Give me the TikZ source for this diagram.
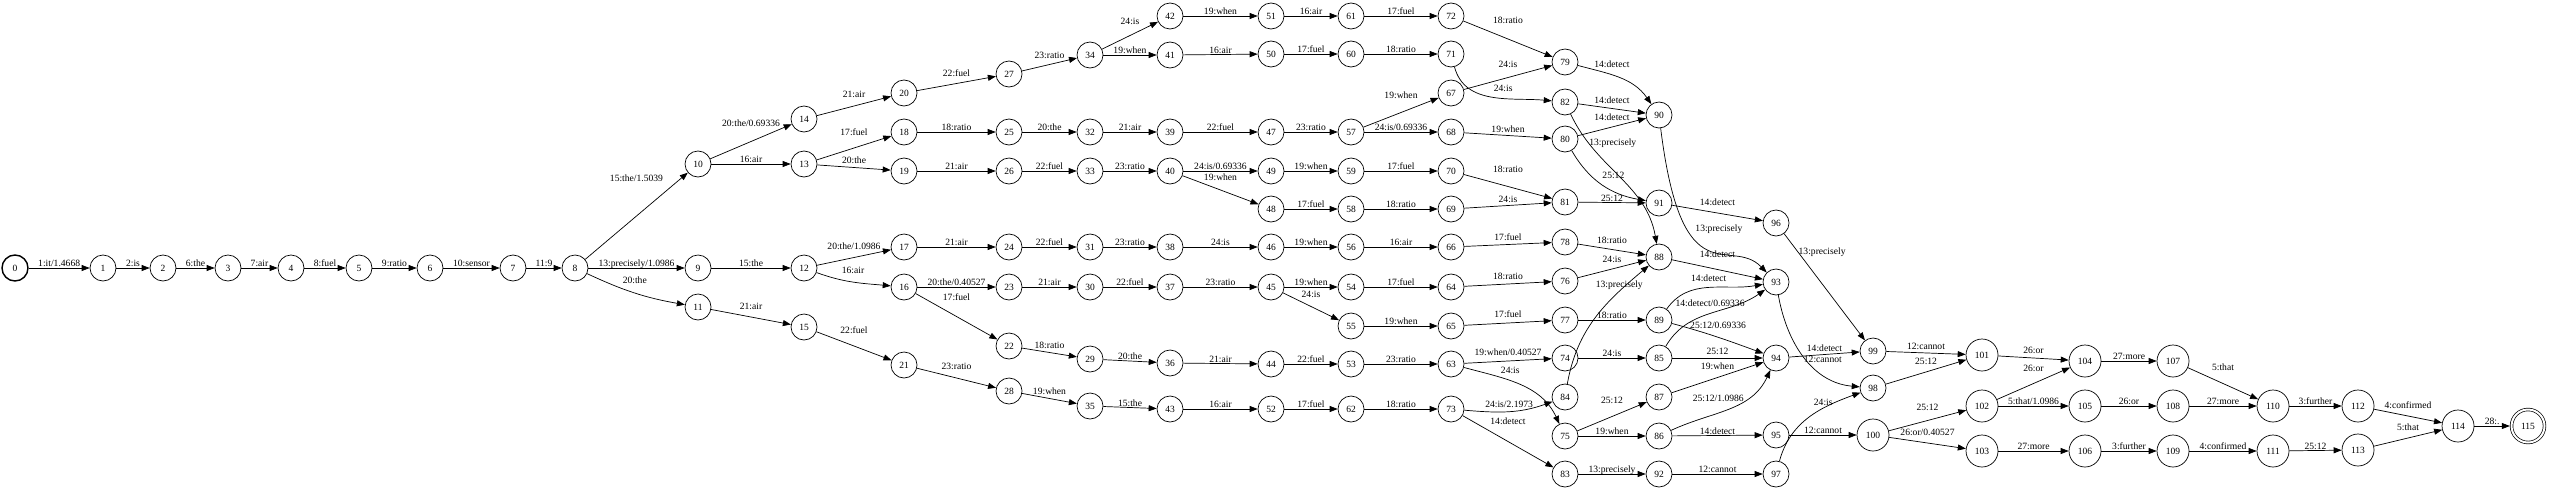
\documentclass[tikz,border=0pt]{standalone}
\usepackage{fontspec}
\setmainfont{Liberation Serif}
\usetikzlibrary{arrows.meta}

\begin{document}
\begin{tikzpicture}[x=1pt, y=-1pt,
  st/.style={circle, draw, line width=0.7pt, minimum size=26pt, inner sep=0pt, font=\fontsize{9.5}{11}\selectfont},
  stw/.style={st, minimum size=32pt},
  tr/.style={-{Triangle[length=8pt,width=6pt]}, line width=0.7pt},
  lbl/.style={above=0.5pt, inner sep=0.5pt, text depth=0pt, font=\fontsize{9.6}{11}\selectfont}]
\useasboundingbox (0,0) rectangle (2550,490);

% Draw the states
\node[st, line width=1.4pt] (n0) at (15,268) {0};
\node[st] (n1) at (103,268) {1};
\node[st] (n2) at (163,268) {2};
\node[st] (n3) at (228,268) {3};
\node[st] (n4) at (291,268) {4};
\node[st] (n5) at (359,268) {5};
\node[st] (n6) at (430,268) {6};
\node[st] (n7) at (513,268) {7};
\node[st] (n8) at (575,268) {8};
\node[st] (n9) at (698,268) {9};
\node[st] (n10) at (698,164) {10};
\node[st] (n11) at (698,307) {11};
\node[st] (n12) at (804,268) {12};
\node[st] (n13) at (804,164) {13};
\node[st] (n14) at (804,119) {14};
\node[st] (n15) at (804,327) {15};
\node[st] (n16) at (904,287) {16};
\node[st] (n17) at (904,247) {17};
\node[st] (n18) at (904,132) {18};
\node[st] (n19) at (904,171) {19};
\node[st] (n20) at (904,93) {20};
\node[st] (n21) at (904,365) {21};
\node[st] (n22) at (1009,346) {22};
\node[st] (n23) at (1009,287) {23};
\node[st] (n24) at (1009,247) {24};
\node[st] (n25) at (1009,132) {25};
\node[st] (n26) at (1009,171) {26};
\node[st] (n27) at (1009,74) {27};
\node[st] (n28) at (1009,391) {28};
\node[st] (n29) at (1090,359) {29};
\node[st] (n30) at (1090,287) {30};
\node[st] (n31) at (1090,247) {31};
\node[st] (n32) at (1090,132) {32};
\node[st] (n33) at (1090,171) {33};
\node[st] (n34) at (1090,55) {34};
\node[st] (n35) at (1090,406) {35};
\node[st] (n36) at (1170,363) {36};
\node[st] (n37) at (1170,287) {37};
\node[st] (n38) at (1170,247) {38};
\node[st] (n39) at (1170,132) {39};
\node[st] (n40) at (1170,171) {40};
\node[st] (n41) at (1170,55) {41};
\node[st] (n42) at (1170,16) {42};
\node[st] (n43) at (1170,409) {43};
\node[st] (n44) at (1271,364) {44};
\node[st] (n45) at (1271,287) {45};
\node[st] (n46) at (1271,247) {46};
\node[st] (n47) at (1271,132) {47};
\node[st] (n48) at (1271,209) {48};
\node[st] (n49) at (1271,171) {49};
\node[st] (n50) at (1271,54) {50};
\node[st] (n51) at (1271,16) {51};
\node[st] (n52) at (1271,409) {52};
\node[st] (n53) at (1351,364) {53};
\node[st] (n54) at (1351,287) {54};
\node[st] (n55) at (1351,326) {55};
\node[st] (n56) at (1351,247) {56};
\node[st] (n57) at (1351,132) {57};
\node[st] (n58) at (1351,209) {58};
\node[st] (n59) at (1351,171) {59};
\node[st] (n60) at (1351,54) {60};
\node[st] (n61) at (1351,16) {61};
\node[st] (n62) at (1351,409) {62};
\node[st] (n63) at (1451,364) {63};
\node[st] (n64) at (1451,287) {64};
\node[st] (n65) at (1451,326) {65};
\node[st] (n66) at (1451,247) {66};
\node[st] (n67) at (1451,93) {67};
\node[st] (n68) at (1451,132) {68};
\node[st] (n69) at (1451,209) {69};
\node[st] (n70) at (1451,171) {70};
\node[st] (n71) at (1451,54) {71};
\node[st] (n72) at (1451,16) {72};
\node[st] (n73) at (1451,409) {73};
\node[st] (n74) at (1565,358) {74};
\node[st] (n75) at (1565,436) {75};
\node[st] (n76) at (1565,281) {76};
\node[st] (n77) at (1565,320) {77};
\node[st] (n78) at (1565,242) {78};
\node[st] (n79) at (1565,62) {79};
\node[st] (n80) at (1565,139) {80};
\node[st] (n81) at (1565,202) {81};
\node[st] (n82) at (1565,102) {82};
\node[st] (n83) at (1565,474) {83};
\node[st] (n84) at (1565,397) {84};
\node[st] (n85) at (1659,358) {85};
\node[st] (n86) at (1659,436) {86};
\node[st] (n87) at (1659,397) {87};
\node[st] (n88) at (1659,257) {88};
\node[st] (n89) at (1659,320) {89};
\node[st] (n90) at (1659,115) {90};
\node[st] (n91) at (1659,203) {91};
\node[st] (n92) at (1659,474) {92};
\node[st] (n93) at (1776,282) {93};
\node[st] (n94) at (1776,358) {94};
\node[st] (n95) at (1776,435) {95};
\node[st] (n96) at (1776,223) {96};
\node[st] (n97) at (1776,474) {97};
\node[st] (n98) at (1873,388) {98};
\node[st] (n99) at (1873,351) {99};
\node[stw] (n100) at (1873,435) {100};
\node[stw] (n101) at (1982,355) {101};
\node[stw] (n102) at (1982,406) {102};
\node[stw] (n103) at (1982,451) {103};
\node[stw] (n104) at (2085,361) {104};
\node[stw] (n105) at (2085,406) {105};
\node[stw] (n106) at (2085,451) {106};
\node[stw] (n107) at (2173,361) {107};
\node[stw] (n108) at (2173,406) {108};
\node[stw] (n109) at (2173,451) {109};
\node[stw] (n110) at (2273,406) {110};
\node[stw] (n111) at (2273,451) {111};
\node[stw] (n112) at (2358,406) {112};
\node[stw] (n113) at (2358,450) {113};
\node[stw] (n114) at (2458,426) {114};
\node[stw, minimum size=33pt, double, double distance=2pt, outer sep=1.7pt] (n115) at (2528,426) {115};

% Draw the arcs
\draw[tr] (n0) -- node[lbl] {1:it/1.4668} (n1);
\draw[tr] (n1) -- node[lbl] {2:is} (n2);
\draw[tr] (n2) -- node[lbl] {6:the} (n3);
\draw[tr] (n3) -- node[lbl] {7:air} (n4);
\draw[tr] (n4) -- node[lbl] {8:fuel} (n5);
\draw[tr] (n5) -- node[lbl] {9:ratio} (n6);
\draw[tr] (n6) -- node[lbl] {10:sensor} (n7);
\draw[tr] (n7) -- node[lbl] {11:9} (n8);
\draw[tr] (n8) -- node[lbl, above=33pt] {15:the/1.5039} (n10);
\draw[tr] (n8) -- node[lbl] {13:precisely/1.0986} (n9);
\draw[tr] (n8) to[out=-25,in=170] node[lbl, above=8pt] {20:the} (n11);
\draw[tr] (n9) -- node[lbl] {15:the} (n12);
\draw[tr] (n10) -- node[lbl, above=14pt] {20:the/0.69336} (n14);
\draw[tr] (n10) -- node[lbl] {16:air} (n13);
\draw[tr] (n11) -- node[lbl, above=6pt] {21:air} (n15);
\draw[tr] (n14) -- node[lbl, above=7pt] {21:air} (n20);
\draw[tr] (n13) -- node[lbl, above=11pt] {17:fuel} (n18);
\draw[tr] (n13) -- node[lbl, above=3pt] {20:the} (n19);
\draw[tr] (n12) -- node[lbl, above=7pt] {20:the/1.0986} (n17);
\draw[tr] (n12) to[out=-20,in=175] node[lbl, above=7pt] {16:air} (n16);
\draw[tr] (n15) -- node[lbl, above=11pt] {22:fuel} (n21);
\draw[tr] (n20) -- node[lbl, above=6pt] {22:fuel} (n27);
\draw[tr] (n27) -- node[lbl, above=5pt] {23:ratio} (n34);
\draw[tr] (n34) -- node[lbl, above=10pt] {24:is} (n42);
\draw[tr] (n34) -- node[lbl] {19:when} (n41);
\draw[tr] (n42) -- node[lbl] {19:when} (n51);
\draw[tr] (n41) -- node[lbl] {16:air} (n50);
\draw[tr] (n18) -- node[lbl] {18:ratio} (n25);
\draw[tr] (n25) -- node[lbl] {20:the} (n32);
\draw[tr] (n32) -- node[lbl] {21:air} (n39);
\draw[tr] (n39) -- node[lbl] {22:fuel} (n47);
\draw[tr] (n19) -- node[lbl] {21:air} (n26);
\draw[tr] (n26) -- node[lbl] {22:fuel} (n33);
\draw[tr] (n33) -- node[lbl] {23:ratio} (n40);
\draw[tr] (n40) -- node[lbl] {24:is/0.69336} (n49);
\draw[tr] (n40) -- node[lbl, above=8pt] {19:when} (n48);
\draw[tr] (n17) -- node[lbl] {21:air} (n24);
\draw[tr] (n24) -- node[lbl] {22:fuel} (n31);
\draw[tr] (n31) -- node[lbl] {23:ratio} (n38);
\draw[tr] (n38) -- node[lbl] {24:is} (n46);
\draw[tr] (n16) -- node[lbl] {20:the/0.40527} (n23);
\draw[tr] (n16) -- node[lbl, above=15pt] {17:fuel} (n22);
\draw[tr] (n23) -- node[lbl] {21:air} (n30);
\draw[tr] (n30) -- node[lbl] {22:fuel} (n37);
\draw[tr] (n37) -- node[lbl] {23:ratio} (n45);
\draw[tr] (n22) -- node[lbl, above=3pt] {18:ratio} (n29);
\draw[tr] (n29) -- node[lbl] {20:the} (n36);
\draw[tr] (n36) -- node[lbl] {21:air} (n44);
\draw[tr] (n21) -- node[lbl, above=7pt] {23:ratio} (n28);
\draw[tr] (n28) -- node[lbl, above=3pt] {19:when} (n35);
\draw[tr] (n35) -- node[lbl] {15:the} (n43);
\draw[tr] (n43) -- node[lbl] {16:air} (n52);
\draw[tr] (n51) -- node[lbl] {16:air} (n61);
\draw[tr] (n61) -- node[lbl] {17:fuel} (n72);
\draw[tr] (n72) -- node[lbl, above=14pt] {18:ratio} (n79);
\draw[tr] (n50) -- node[lbl] {17:fuel} (n60);
\draw[tr] (n60) -- node[lbl] {18:ratio} (n71);
\draw[tr] (n71) to[out=-75,in=175] node[lbl, pos=0.6, above=6pt] {24:is} (n82);
\draw[tr] (n67) -- node[lbl, above=9pt] {24:is} (n79);
\draw[tr] (n57) -- node[lbl, above=13pt] {19:when} (n67);
\draw[tr] (n47) -- node[lbl] {23:ratio} (n57);
\draw[tr] (n57) -- node[lbl] {24:is/0.69336} (n68);
\draw[tr] (n68) -- node[lbl, above=2pt] {19:when} (n80);
\draw[tr] (n79) to[out=-15,in=125] node[lbl, pos=0.4, above=6pt] {14:detect} (n90);
\draw[tr] (n82) -- node[lbl, above=4pt] {14:detect} (n90);
\draw[tr] (n80) -- node[lbl, above=5pt] {14:detect} (n90);
\draw[tr] (n82) to[out=-65,in=100] node[lbl, pos=0.2, right] {13:precisely} (n88);
\draw[tr] (n80) to[out=-60,in=170] node[lbl, above=5pt, xshift=11pt] {25:12} (n91);
\draw[tr] (n81) -- node[lbl] {25:12} (n91);
\draw[tr] (n49) -- node[lbl] {19:when} (n59);
\draw[tr] (n59) -- node[lbl] {17:fuel} (n70);
\draw[tr] (n70) -- node[lbl, above=13pt] {18:ratio} (n81);
\draw[tr] (n48) -- node[lbl] {17:fuel} (n58);
\draw[tr] (n58) -- node[lbl] {18:ratio} (n69);
\draw[tr] (n69) -- node[lbl, above=2pt] {24:is} (n81);
\draw[tr] (n46) -- node[lbl] {19:when} (n56);
\draw[tr] (n56) -- node[lbl] {16:air} (n66);
\draw[tr] (n66) -- node[lbl, above=3pt] {17:fuel} (n78);
\draw[tr] (n78) -- node[lbl, above=5pt] {18:ratio} (n88);
\draw[tr] (n45) -- node[lbl] {19:when} (n54);
\draw[tr] (n45) -- node[lbl, above=8pt] {24:is} (n55);
\draw[tr] (n54) -- node[lbl] {17:fuel} (n64);
\draw[tr] (n64) -- node[lbl, above=3pt] {18:ratio} (n76);
\draw[tr] (n76) -- node[lbl, above=5pt] {24:is} (n88);
\draw[tr] (n55) -- node[lbl] {19:when} (n65);
\draw[tr] (n65) -- node[lbl, above=4pt] {17:fuel} (n77);
\draw[tr] (n77) -- node[lbl] {18:ratio} (n89);
\draw[tr] (n44) -- node[lbl] {22:fuel} (n53);
\draw[tr] (n53) -- node[lbl] {23:ratio} (n63);
\draw[tr] (n63) -- node[lbl, above=4pt] {19:when/0.40527} (n74);
\draw[tr] (n63) to[out=-15,in=115] node[lbl, pos=0.4, above=6pt] {24:is} (n75);
\draw[tr] (n74) -- node[lbl] {24:is} (n85);
\draw[tr] (n84) to[out=80,in=-140] node[lbl, pos=0.75, above=3pt] {13:precisely} (n88);
\draw[tr] (n52) -- node[lbl] {17:fuel} (n62);
\draw[tr] (n62) -- node[lbl] {18:ratio} (n73);
\draw[tr] (n73) to[out=-5,in=-160] node[lbl, above=3pt] {24:is/2.1973} (n84);
\draw[tr] (n73) -- node[lbl, above=16pt] {14:detect} (n83);
\draw[tr] (n75) -- node[lbl, above=12pt] {25:12} (n87);
\draw[tr] (n75) -- node[lbl] {19:when} (n86);
\draw[tr] (n83) -- node[lbl] {13:precisely} (n92);
\draw[tr] (n88) -- node[lbl, above=11pt] {14:detect} (n93);
\draw[tr] (n89) to[out=55,in=190] node[lbl, above=4pt] {14:detect} (n93);
\draw[tr] (n85) to[out=60,in=-145] node[lbl, above=5pt] {14:detect/0.69336} (n93);
\draw[tr] (n89) to[out=-15,in=160] node[lbl, above=7pt] {25:12/0.69336} (n94);
\draw[tr] (n85) -- node[lbl, above=2pt] {25:12} (n94);
\draw[tr] (n87) -- node[lbl, above=7pt] {19:when} (n94);
\draw[tr] (n86) to[out=25,in=-115] node[lbl, pos=0.4, above=10pt] {25:12/1.0986} (n94);
\draw[tr] (n86) -- node[lbl] {14:detect} (n95);
\draw[tr] (n92) -- node[lbl] {12:cannot} (n97);
\draw[tr] (n91) -- node[lbl, above=6pt] {14:detect} (n96);
\draw[tr] (n90) .. controls (1682,300) and (1730,235) .. (n93) node[lbl, pos=0.5, above=18pt, xshift=11pt] {13:precisely};
\draw[tr] (n93) to[out=-80,in=175] node[lbl, pos=0.6, above=2pt, xshift=10pt] {12:cannot} (n98);
\draw[tr] (n94) -- node[lbl, above=2pt] {14:detect} (n99);
\draw[tr] (n96) -- node[lbl, pos=0.17, right] {13:precisely} (n99);
\draw[tr] (n97) to[out=75,in=200] node[lbl, pos=0.6, above=4pt, xshift=5pt] {24:is} (n98);
\draw[tr] (n95) -- node[lbl] {12:cannot} (n100);
\draw[tr] (n99) -- node[lbl, above=2pt] {12:cannot} (n101);
\draw[tr] (n98) -- node[lbl, above=6pt] {25:12} (n101);
\draw[tr] (n100) -- node[lbl, above=9pt] {25:12} (n102);
\draw[tr] (n100) -- node[lbl, above=6pt] {26:or/0.40527} (n103);
\draw[tr] (n101) -- node[lbl, above=3pt] {26:or} (n104);
\draw[tr] (n102) -- node[lbl, above=11pt] {26:or} (n104);
\draw[tr] (n102) -- node[lbl] {5:that/1.0986} (n105);
\draw[tr] (n103) -- node[lbl] {27:more} (n106);
\draw[tr] (n104) -- node[lbl] {27:more} (n107);
\draw[tr] (n105) -- node[lbl] {26:or} (n108);
\draw[tr] (n106) -- node[lbl] {3:further} (n109);
\draw[tr] (n107) -- node[lbl, above=12pt] {5:that} (n110);
\draw[tr] (n108) -- node[lbl] {27:more} (n110);
\draw[tr] (n109) -- node[lbl] {4:confirmed} (n111);
\draw[tr] (n110) -- node[lbl] {3:further} (n112);
\draw[tr] (n111) -- node[lbl] {25:12} (n113);
\draw[tr] (n112) -- node[lbl, above=6pt] {4:confirmed} (n114);
\draw[tr] (n113) -- node[lbl, above=6pt] {5:that} (n114);
\draw[tr] (n114) -- node[lbl] {28:.} (n115);
\end{tikzpicture}
\end{document}
